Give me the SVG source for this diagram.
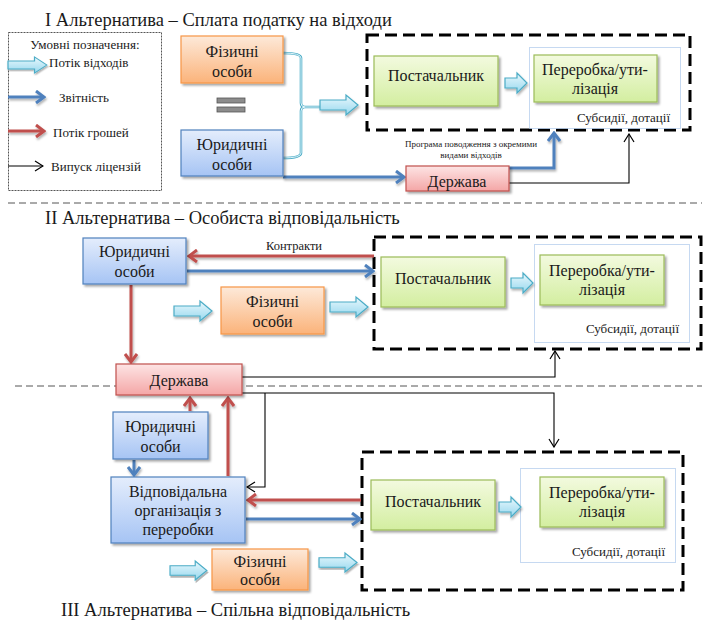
<svg xmlns="http://www.w3.org/2000/svg" width="710" height="622" viewBox="0 0 710 622" font-family="'Liberation Serif', 'Times New Roman', serif">
<style>
text{font-family:'Liberation Serif','Times New Roman',serif;fill:#1a1a1a}
.t15{font-size:16px;text-anchor:middle}
.t11{font-size:13px}
.title{font-size:18.5px}
.sub{font-size:13px;text-anchor:end}
.box{stroke-width:1.2;filter:url(#sh)}
.or{fill:url(#gOr);stroke:#f79646}
.bl{fill:url(#gBl);stroke:#4f81bd}
.gr{fill:url(#gGr);stroke:#9bbb59}
.rd{fill:url(#gRd);stroke:#c0504d}
.dash{fill:none;stroke:#000;stroke-width:3;stroke-dasharray:12 6}
.dot{fill:#fff;stroke:#8db3e2;stroke-width:1;stroke-dasharray:1 1}
.sep{stroke:#555;stroke-width:1;stroke-dasharray:7 4}
.la{fill:url(#gLa);stroke:#4bacc6;stroke-width:1.2;filter:url(#sh2)}
.cb{fill:none;stroke:#4f81bd;stroke-width:3;marker-end:url(#mB);filter:url(#sh3)}
.cr{fill:none;stroke:#c0504d;stroke-width:3;marker-end:url(#mR);filter:url(#sh3)}
.ck{fill:none;stroke:#000;stroke-width:1.1;marker-end:url(#mK)}
</style>
<defs>
<linearGradient id="gOr" x1="0" y1="0" x2="0" y2="1"><stop offset="0" stop-color="#fde9d9"/><stop offset="1" stop-color="#fbb37a"/></linearGradient>
<linearGradient id="gBl" x1="0" y1="0" x2="0" y2="1"><stop offset="0" stop-color="#e4edfc"/><stop offset="1" stop-color="#a6c4f4"/></linearGradient>
<linearGradient id="gGr" x1="0" y1="0" x2="0" y2="1"><stop offset="0" stop-color="#f3fadf"/><stop offset="1" stop-color="#d3eea0"/></linearGradient>
<linearGradient id="gRd" x1="0" y1="0" x2="0" y2="1"><stop offset="0" stop-color="#fde4e4"/><stop offset="1" stop-color="#f4a6a6"/></linearGradient>
<linearGradient id="gLa" x1="0" y1="0" x2="0" y2="1"><stop offset="0" stop-color="#e9f8fd"/><stop offset="1" stop-color="#97d8ee"/></linearGradient>
<filter id="sh" x="-10%" y="-10%" width="130%" height="140%"><feDropShadow dx="2" dy="2" stdDeviation="1" flood-color="#000" flood-opacity="0.35"/></filter>
<filter id="sh2" x="-10%" y="-30%" width="130%" height="180%"><feDropShadow dx="1" dy="2" stdDeviation="0.8" flood-color="#000" flood-opacity="0.3"/></filter>
<filter id="sh3" filterUnits="userSpaceOnUse" x="0" y="0" width="710" height="622"><feDropShadow dx="1" dy="2" stdDeviation="0.8" flood-color="#000" flood-opacity="0.3"/></filter>
<path id="arr" d="M0,5 H26 V0 L38,10 L26,20 V15 H0 Z"/>
<path id="sarr" d="M0,5 H12 V0 L22,10 L12,20 V15 H0 Z"/>
<marker id="mB" markerUnits="userSpaceOnUse" viewBox="0 0 12 14" refX="10" refY="7" markerWidth="12" markerHeight="14" orient="auto"><path d="M2,1 L10,7 L2,13" fill="none" stroke="#4f81bd" stroke-width="3"/></marker>
<marker id="mR" markerUnits="userSpaceOnUse" viewBox="0 0 12 14" refX="10" refY="7" markerWidth="12" markerHeight="14" orient="auto"><path d="M2,1 L10,7 L2,13" fill="none" stroke="#c0504d" stroke-width="3"/></marker>
<marker id="mK" markerUnits="userSpaceOnUse" viewBox="0 0 10 12" refX="9" refY="6" markerWidth="10" markerHeight="12" orient="auto"><path d="M1,1 L9,6 L1,11" fill="none" stroke="#000" stroke-width="1.2"/></marker>
</defs>
<rect width="710" height="622" fill="#fff"/>

<!-- titles and separators -->
<text class="title" x="45" y="26">І Альтернатива – Сплата податку на відходи</text>
<text class="title" x="45" y="224">ІІ Альтернатива – Особиста відповідальність</text>
<text class="title" x="61" y="616">ІІІ Альтернатива – Спільна відповідальність</text>
<line class="sep" x1="8" y1="203" x2="702" y2="203"/>
<line class="sep" x1="15" y1="386" x2="702" y2="386"/>

<!-- legend -->
<g id="legend">
<rect x="8.5" y="32.5" width="153" height="158" fill="#fff" stroke="#555" stroke-width="1" stroke-dasharray="2 1"/>
<text class="t11" x="85" y="49" text-anchor="middle">Умовні позначення:</text>
<use href="#arr" class="la" transform="translate(8,57) scale(1.02,0.8)"/>
<text class="t11" x="49" y="67">Потік відходів</text>
<line class="cb" x1="8" y1="97" x2="44" y2="97"/>
<text class="t11" x="59" y="102">Звітність</text>
<line class="cr" x1="8" y1="131" x2="44" y2="131"/>
<text class="t11" x="53" y="137">Потік грошей</text>
<line class="ck" x1="8" y1="166" x2="43" y2="166"/>
<text class="t11" x="51" y="171">Випуск ліцензій</text>
</g>

<!-- big dashed frames and inner dotted frames -->
<g id="frames">
<rect class="dash" x="367" y="35" width="323" height="95"/>
<rect class="dot" x="529.5" y="47.5" width="151" height="81"/>
<rect class="dash" x="374" y="237" width="327" height="112"/>
<rect class="dot" x="534.5" y="244.5" width="155" height="98"/>
<rect class="dash" x="362" y="452" width="321" height="138"/>
<rect class="dot" x="520.5" y="468.5" width="155" height="94"/>
<text class="sub" x="670" y="122">Субсидії, дотації</text>
<text class="sub" x="679" y="333">Субсидії, дотації</text>
<text class="sub" x="665" y="556">Субсидії, дотації</text>
</g>

<!-- connectors -->
<g id="connectors">
<!-- section I -->
<path d="M283,53 Q301,53 301,58 V103 Q301,107 305,107 M283,158 Q301,158 301,153 V111 Q301,107 305,107 H320" fill="none" stroke="#4bacc6" stroke-width="2.6"/>
<path d="M283,53 Q301,53 301,58 V103 Q301,107 305,107 M283,158 Q301,158 301,153 V111 Q301,107 305,107 H320" fill="none" stroke="#e3f5fb" stroke-width="1"/>
<use href="#arr" class="la" transform="translate(320,95)"/>
<use href="#sarr" class="la" transform="translate(505,73)"/>
<polyline class="cb" points="283,177 404,177"/>
<polyline class="cb" points="509,168 554,168 554,133"/>
<polyline class="ck" points="509,183 629,183 629,134"/>
<text x="471" y="147" font-size="9" text-anchor="middle">Програма поводження з окремими</text>
<text x="471" y="158" font-size="9" text-anchor="middle">видами відходів</text>
<!-- section II -->
<line class="cr" x1="374" y1="256" x2="189" y2="256"/>
<text x="294" y="250" font-size="12.5" text-anchor="middle">Контракти</text>
<line class="cb" x1="187" y1="271" x2="373" y2="271"/>
<use href="#arr" class="la" transform="translate(174,301)"/>
<use href="#arr" class="la" transform="translate(330,297)"/>
<use href="#sarr" class="la" transform="translate(511,273)"/>
<line class="cr" x1="131" y1="285" x2="131" y2="362"/>
<polyline class="ck" points="242,377 555,377 555,351"/>
<!-- section III -->
<line class="cr" x1="190" y1="411" x2="190" y2="398"/>
<line class="cr" x1="228" y1="476" x2="228" y2="398"/>
<line class="cb" x1="134" y1="460" x2="134" y2="475"/>
<polyline class="ck" points="242,393 554,393 554,447"/>
<polyline class="ck" points="265,393 265,487 247,487"/>
<line class="cr" x1="361" y1="500" x2="248" y2="500"/>
<line class="cb" x1="246" y1="519" x2="360" y2="519"/>
<use href="#sarr" class="la" transform="translate(499,497)"/>
<use href="#arr" class="la" transform="translate(170,561) scale(0.97,0.95)"/>
<use href="#arr" class="la" transform="translate(319,553) scale(1,0.95)"/>
</g>

<!-- section I nodes -->
<g id="n1-fiz"><rect class="box or" x="181" y="36" width="102" height="47"/><text class="t15" x="232" y="57">Фізичні</text><text class="t15" x="232" y="77">особи</text></g>
<g id="n1-eq"><rect x="217" y="98" width="28" height="5" fill="#8c8c8c" stroke="#555" stroke-width="0.8"/><rect x="217" y="107" width="28" height="5" fill="#8c8c8c" stroke="#555" stroke-width="0.8"/></g>
<g id="n1-yur"><rect class="box bl" x="181" y="130" width="102" height="46"/><text class="t15" x="232" y="150">Юридичні</text><text class="t15" x="232" y="170">особи</text></g>
<g id="n1-post"><rect class="box gr" x="374" y="56" width="124" height="50"/><text class="t15" x="436" y="81">Постачальник</text></g>
<g id="n1-per"><rect class="box gr" x="534" y="55" width="123" height="47"/><text class="t15" x="595" y="75">Переробка/ути-</text><text class="t15" x="595" y="94">лізація</text></g>
<g id="n1-der"><rect class="box rd" x="406" y="166" width="103" height="25"/><text class="t15" x="457" y="187">Держава</text></g>

<!-- section II nodes -->
<g id="n2-yur"><rect class="box bl" x="83" y="238" width="103" height="46"/><text class="t15" x="134.5" y="257">Юридичні</text><text class="t15" x="134.5" y="277">особи</text></g>
<g id="n2-fiz"><rect class="box or" x="221" y="287" width="103" height="47"/><text class="t15" x="272.5" y="307">Фізичні</text><text class="t15" x="272.5" y="327">особи</text></g>
<g id="n2-post"><rect class="box gr" x="381" y="257" width="124" height="50"/><text class="t15" x="443" y="284">Постачальник</text></g>
<g id="n2-per"><rect class="box gr" x="540" y="255" width="124" height="50"/><text class="t15" x="602" y="276">Переробка/ути-</text><text class="t15" x="602" y="295">лізація</text></g>
<g id="n2-der"><rect class="box rd" x="116" y="364" width="126" height="31"/><text class="t15" x="179" y="386">Держава</text></g>

<!-- section III nodes -->
<g id="n3-yur"><rect class="box bl" x="113" y="412" width="95" height="47"/><text class="t15" x="160.5" y="432">Юридичні</text><text class="t15" x="160.5" y="452">особи</text></g>
<g id="n3-vid"><rect class="box bl" x="111" y="477" width="134" height="66"/><text class="t15" x="178" y="497">Відповідальна</text><text class="t15" x="178" y="516">організація з</text><text class="t15" x="178" y="535">переробки</text></g>
<g id="n3-post"><rect class="box gr" x="371" y="480" width="124" height="50"/><text class="t15" x="433" y="507">Постачальник</text></g>
<g id="n3-per"><rect class="box gr" x="540" y="477" width="124" height="50"/><text class="t15" x="602" y="498">Переробка/ути-</text><text class="t15" x="602" y="517">лізація</text></g>
<g id="n3-fiz"><rect class="box or" x="212" y="549" width="96" height="41"/><text class="t15" x="260" y="567" font-size="14">Фізичні</text><text class="t15" x="260" y="585" font-size="14">особи</text></g>
</svg>
